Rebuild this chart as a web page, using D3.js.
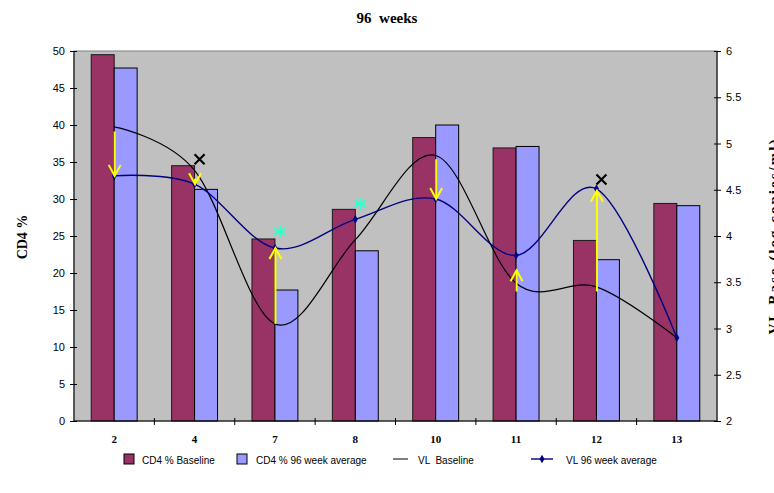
<!DOCTYPE html>
<html>
<head>
<meta charset="utf-8">
<script src="https://cdn.jsdelivr.net/npm/d3@7"></script>
<style>
  body { margin: 0; background: #fff; overflow: hidden; }
  svg { display: block; }
</style>
</head>
<body>
<svg id="chart" width="774" height="493"></svg>
<script>
// ---- data ----
const categories = ["2", "4", "7", "8", "10", "11", "12", "13"];
const cd4Baseline = [49.5, 34.5, 24.6, 28.6, 38.3, 36.9, 24.4, 29.4];
const cd4Week96 = [47.7, 31.3, 17.7, 23.0, 40.0, 37.1, 21.8, 29.1];
const vlBaseline = [5.18, 4.71, 3.05, 3.96, 4.87, 3.49, 3.45, 2.90];
const vlWeek96 = [4.65, 4.56, 3.87, 4.18, 4.40, 3.79, 4.51, 2.90];
const leftTicks = [0, 5, 10, 15, 20, 25, 30, 35, 40, 45, 50];
const rightTicks = [2, 2.5, 3, 3.5, 4, 4.5, 5, 5.5, 6];
// annotations: yellow arrows (category, from, to) on VL axis
const arrowCats = ["2", "4", "7", "10", "11", "12"];
const arrowFrom = [5.13, 4.62, 3.05, 4.83, 3.40, 3.40];
const arrowTo = [4.65, 4.56, 3.87, 4.40, 3.63, 4.49];
const crossCats = ["4", "12"];
const crossVals = [4.83, 4.61];
const starCats = ["7", "8"];
const starVals = [4.05, 4.35];
const seriesNames = ["CD4 % Baseline", "CD4 % 96 week average", "VL  Baseline", "VL 96 week average"];

// ---- layout ----
const svg = d3.select("#chart");
const m = { left: 74, right: 717, top: 51, bottom: 421 };

const x = d3.scaleBand().domain(categories).range([m.left, m.right]).paddingInner(0).paddingOuter(0);
const bw = x.bandwidth();
const barW = bw / 3.5;
const yL = d3.scaleLinear().domain([0, 50]).range([m.bottom, m.top]);
const yR = d3.scaleLinear().domain([2, 6]).range([m.bottom, m.top]);
const cx = c => x(c) + bw / 2;

// plot background
svg.append("rect").attr("x", m.left).attr("y", m.top)
  .attr("width", m.right - m.left).attr("height", m.bottom - m.top)
  .attr("fill", "#C0C0C0").attr("stroke", "#808080").attr("stroke-width", 1);

// bars
const g = svg.append("g");
g.selectAll(".b1").data(categories).join("rect")
  .attr("x", (c) => cx(c) - barW)
  .attr("y", (c, i) => yL(cd4Baseline[i]))
  .attr("width", barW)
  .attr("height", (c, i) => yL(0) - yL(cd4Baseline[i]))
  .attr("fill", "#993366").attr("stroke", "#1a1a1a").attr("stroke-width", 1);
g.selectAll(".b2").data(categories).join("rect")
  .attr("x", (c) => cx(c))
  .attr("y", (c, i) => yL(cd4Week96[i]))
  .attr("width", barW)
  .attr("height", (c, i) => yL(0) - yL(cd4Week96[i]))
  .attr("fill", "#9999FF").attr("stroke", "#000").attr("stroke-width", 1);

// lines
const line = d3.line().curve(d3.curveCatmullRom.alpha(0));
svg.append("path")
  .attr("d", line(categories.map((c, i) => [cx(c), yR(vlBaseline[i])])))
  .attr("fill", "none").attr("stroke", "#000").attr("stroke-width", 1.2);
svg.append("path")
  .attr("d", line(categories.map((c, i) => [cx(c), yR(vlWeek96[i])])))
  .attr("fill", "none").attr("stroke", "#000080").attr("stroke-width", 1.4);
const diamond = d3.symbol().type(d3.symbolDiamond).size(22);
svg.selectAll(".mk").data(categories).join("path")
  .attr("transform", (c, i) => `translate(${cx(c)},${yR(vlWeek96[i])})`)
  .attr("d", diamond).attr("fill", "#000080");

// yellow arrows
arrowCats.forEach((c, i) => {
  const xx = cx(c) + 0.5, y0 = yR(arrowFrom[i]), y1 = yR(arrowTo[i]);
  const dir = y1 > y0 ? -1 : 1; // head arms go back toward start
  svg.append("line").attr("x1", xx).attr("x2", xx).attr("y1", y0).attr("y2", y1)
    .attr("stroke", "#FFFF00").attr("stroke-width", 2);
  svg.append("path")
    .attr("d", `M${xx - 6},${y1 + dir * 11}L${xx},${y1}L${xx + 6},${y1 + dir * 11}`)
    .attr("fill", "none").attr("stroke", "#FFFF00").attr("stroke-width", 2);
});

// crosses
crossCats.forEach((c, i) => {
  const xx = cx(c) + 5, yy = yR(crossVals[i]);
  svg.append("path")
    .attr("d", `M${xx - 5},${yy - 5}L${xx + 5},${yy + 5}M${xx - 5},${yy + 5}L${xx + 5},${yy - 5}`)
    .attr("stroke", "#000").attr("stroke-width", 2.2);
});
// stars
starCats.forEach((c, i) => {
  const xx = cx(c) + 5, yy = yR(starVals[i]);
  const r = 6.5;
  const a = r * 0.7;
  svg.append("path")
    .attr("d", `M${xx},${yy - r}L${xx},${yy + r}` +
      `M${xx - r * 0.87},${yy - r * 0.5}L${xx + r * 0.87},${yy + r * 0.5}` +
      `M${xx - r * 0.87},${yy + r * 0.5}L${xx + r * 0.87},${yy - r * 0.5}` +
      `M${xx - a},${yy}L${xx + a},${yy}`)
    .attr("stroke", "#33FFCC").attr("stroke-width", 2);
});

// axes
const axisFont = "'Liberation Sans', Arial, sans-serif";
const la = svg.append("g").attr("transform", `translate(${m.left},0)`)
  .call(d3.axisLeft(yL).tickValues(leftTicks).tickSize(4).tickPadding(5).tickFormat(d3.format("d")));
la.select(".domain").attr("d", `M0,${m.top}V${m.bottom}`).attr("stroke", "#000");
la.selectAll(".tick line").attr("x1", 3);
la.selectAll("text").attr("font-family", axisFont).attr("font-size", 11).attr("fill", "#000");

const ra = svg.append("g").attr("transform", `translate(${m.right},0)`)
  .call(d3.axisRight(yR).tickValues(rightTicks).tickSize(4).tickPadding(5).tickFormat(d => String(d)));
ra.select(".domain").attr("d", `M0,${m.top}V${m.bottom}`).attr("stroke", "#000");
ra.selectAll(".tick line").attr("x1", -3);
ra.selectAll("text").attr("font-family", axisFont).attr("font-size", 11).attr("fill", "#000");

const ba = svg.append("g").attr("transform", `translate(0,${m.bottom})`)
  .call(d3.axisBottom(x).tickSize(0).tickPadding(14));
ba.select(".domain").attr("d", `M${m.left},0H${m.right}`).attr("stroke", "#000");
ba.selectAll("text").attr("font-family", "'Liberation Serif', 'Times New Roman', serif")
  .attr("font-weight", "bold").attr("font-size", 11).attr("fill", "#000");
// category separator ticks
ba.selectAll(".sep").data(categories.slice(1)).join("line")
  .attr("x1", c => x(c)).attr("x2", c => x(c)).attr("y1", -3).attr("y2", 4)
  .attr("stroke", "#000");

// titles
const serif = "'Liberation Serif', 'Times New Roman', serif";
svg.append("text").attr("x", 387).attr("y", 23).attr("text-anchor", "middle")
  .attr("font-family", serif).attr("font-weight", "bold").attr("font-size", 15)
  .attr("xml:space", "preserve").text("96  weeks");
svg.append("text").attr("transform", `translate(27,237) rotate(-90)`).attr("text-anchor", "middle")
  .attr("font-family", serif).attr("font-weight", "bold").attr("font-size", 14).text("CD4 %");
// right axis title: reference shows it rotated and running off the right edge
svg.append("text").attr("transform", `translate(779,237) rotate(-90)`).attr("text-anchor", "middle")
  .attr("font-family", serif).attr("font-weight", "bold").attr("font-size", 15)
  .attr("textLength", 195).attr("lengthAdjust", "spacing")
  .text("VL Base (log copies/ml)");

// legend
const lg = svg.append("g").attr("font-family", axisFont).attr("font-size", 10);
const ly = 460;
lg.append("rect").attr("x", 124).attr("y", ly - 6).attr("width", 10).attr("height", 10)
  .attr("fill", "#993366").attr("stroke", "#000");
lg.append("text").attr("x", 142).attr("y", ly + 3.5).text(seriesNames[0]);
lg.append("rect").attr("x", 237).attr("y", ly - 6).attr("width", 10).attr("height", 10)
  .attr("fill", "#9999FF").attr("stroke", "#000");
lg.append("text").attr("x", 256).attr("y", ly + 3.5).text(seriesNames[1]);
lg.append("line").attr("x1", 393).attr("x2", 408).attr("y1", ly - 1).attr("y2", ly - 1).attr("stroke", "#000");
lg.append("text").attr("x", 418).attr("y", ly + 3.5).attr("xml:space", "preserve").text(seriesNames[2]);
lg.append("line").attr("x1", 531).attr("x2", 553).attr("y1", ly - 1).attr("y2", ly - 1).attr("stroke", "#000080").attr("stroke-width", 1.4);
lg.append("path").attr("transform", `translate(542,${ly - 1})`).attr("d", diamond).attr("fill", "#000080");
lg.append("text").attr("x", 566).attr("y", ly + 3.5).text(seriesNames[3]);
</script>
</body>
</html>
